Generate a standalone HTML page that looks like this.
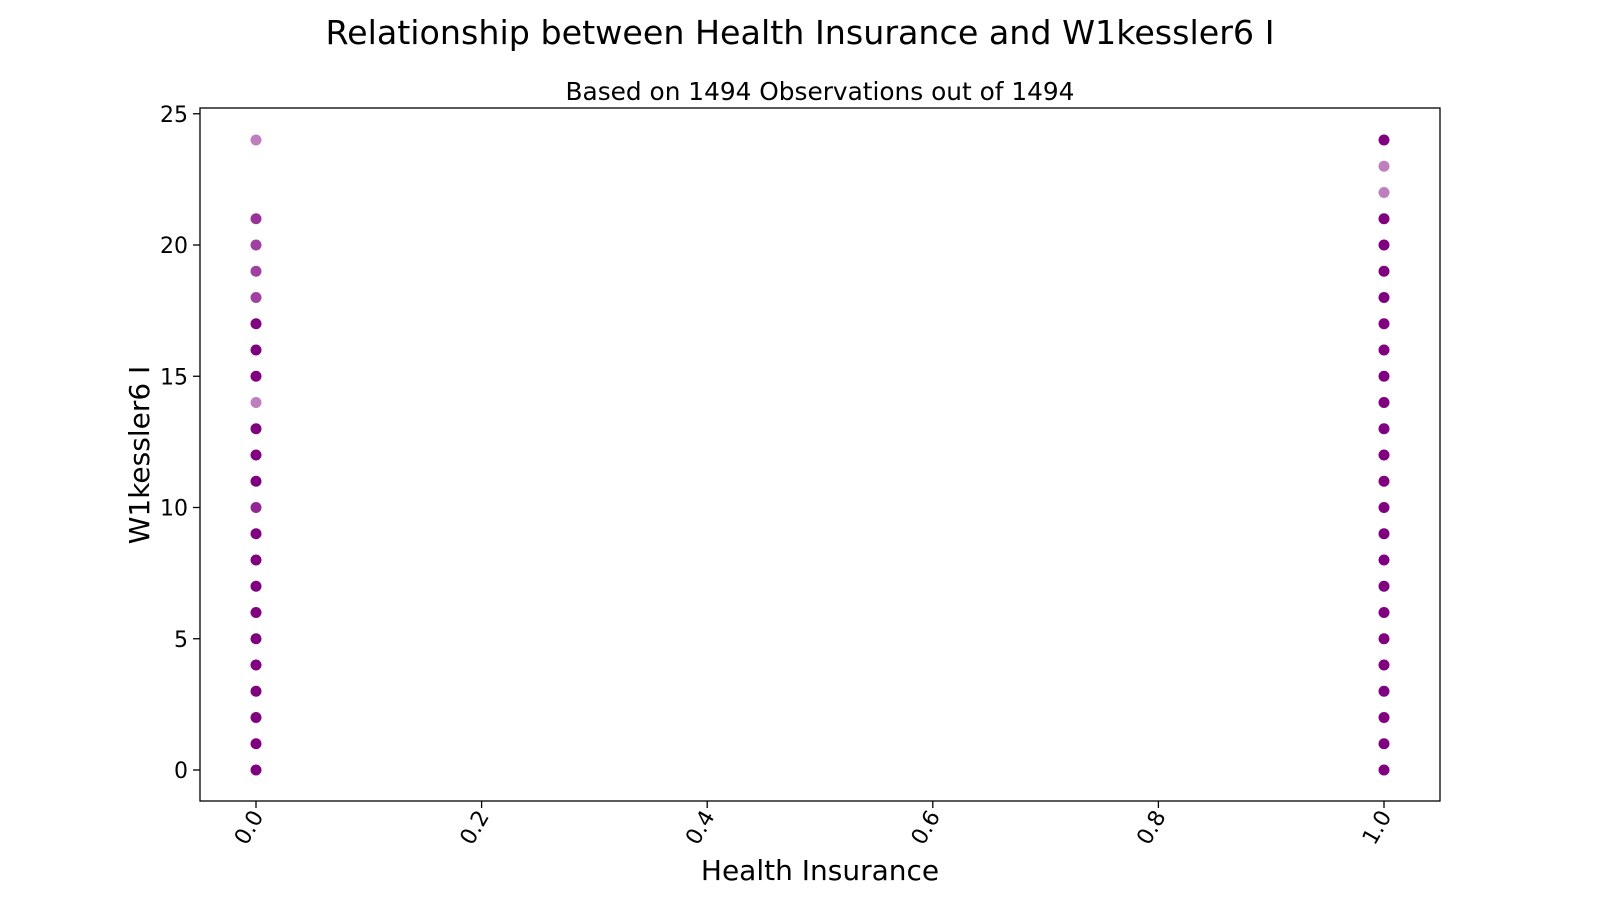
<!DOCTYPE html>
<html><head><meta charset="utf-8"><style>
body{margin:0;background:#fff;font-family:"DejaVu Sans","Liberation Sans",sans-serif}
</style></head><body>
<svg width="1600" height="900" xmlns="http://www.w3.org/2000/svg">
<text x="800" y="44" text-anchor="middle" font-size="33.3">Relationship between Health Insurance and W1kessler6 I</text>
<text x="820" y="100" text-anchor="middle" font-size="24.8">Based on 1494 Observations out of 1494</text>
<g id="plot"></g>
<rect x="200" y="108" width="1240" height="693" fill="none" stroke="#000" stroke-width="1.3"/>
<text x="820" y="880" text-anchor="middle" font-size="28">Health Insurance</text>
<text transform="translate(149,455) rotate(-90)" text-anchor="middle" font-size="28">W1kessler6 I</text>
</svg>
<script>
const xTicks=[0,0.2,0.4,0.6,0.8,1.0];
const yTicks=[0,5,10,15,20,25];
const group0Values=[0,1,2,3,4,5,6,7,8,9,10,11,12,13,14,15,16,17,18,19,20,21,24];
const group0Alpha=[1,1,1,1,1,1,1,1,1,1,0.85,1,1,1,0.5,1,1,1,0.75,0.75,0.75,0.8,0.5];
const group1Values=[0,1,2,3,4,5,6,7,8,9,10,11,12,13,14,15,16,17,18,19,20,21,22,23,24];
const group1Alpha=[1,1,1,1,1,1,1,1,1,1,1,1,1,1,1,1,1,1,1,1,1,1,0.5,0.5,1];
const NS="http://www.w3.org/2000/svg";
const X=v=>256+(1384-256)*v;
const Y=v=>770-(770-140)*v/24;
const g=document.getElementById('plot');
function mk(t,a){const e=document.createElementNS(NS,t);for(const k in a)e.setAttribute(k,a[k]);g.appendChild(e);return e;}
xTicks.forEach(t=>{
 const l=mk('line',{x1:X(t),x2:X(t),y1:801,y2:808,stroke:'#000','stroke-width':1.3});
 
 
 const tx=mk('text',{x:0,y:0,'font-size':22,'text-anchor':'end',transform:`translate(${X(t)+8},${816}) rotate(-60)`});
 tx.textContent=t.toFixed(1);
 
 
});
yTicks.forEach(t=>{
 const l=mk('line',{x1:193,x2:200,y1:Y(t),y2:Y(t),stroke:'#000','stroke-width':1.3});
 
 
 const tx=mk('text',{x:188,y:Y(t)+8,'font-size':22,'text-anchor':'end'});
 tx.textContent=t;
 
 
});
function pts(xv,vals,al){vals.forEach((v,i)=>{
 const c=mk('circle',{cx:X(xv),cy:Y(v),r:5.5,fill:'#800080','fill-opacity':al[i]});
 
 
});}
pts(0,group0Values,group0Alpha);
pts(1,group1Values,group1Alpha);
</script>
</body></html>
